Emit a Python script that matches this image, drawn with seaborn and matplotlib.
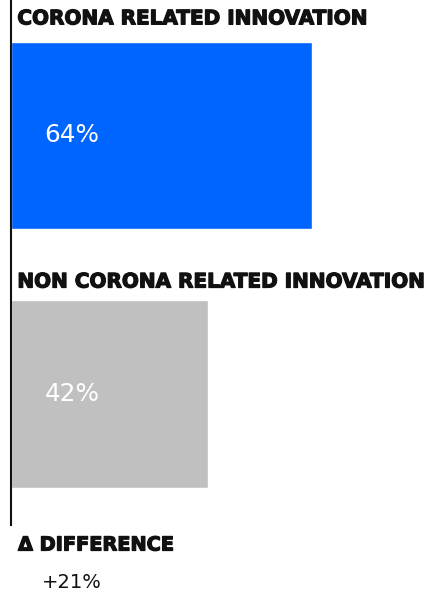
import matplotlib
matplotlib.use("Agg")
import matplotlib.pyplot as plt
import matplotlib.patheffects as pe
import seaborn as sns
import pandas as pd

categories = ["CORONA RELATED INNOVATION", "NON CORONA RELATED INNOVATION"]
values = [64, 42]
value_labels = ["64%", "42%"]
colors = ["#0064FF", "#C0C0C0"]
diff_title = "Δ DIFFERENCE"
diff_value = "+21%"

sns.set_style("white")
plt.rcParams['font.family'] = ['DejaVu Sans']

df = pd.DataFrame({"cat": categories, "val": values})

fig = plt.figure(figsize=(4.26, 5.95), dpi=100)
ax = fig.add_axes([11/426, 70/595, 1 - 11/426, 525/595])
sns.barplot(data=df, y="cat", x="val", hue="cat", palette=colors, orient="h",
            width=0.725, ax=ax, legend=False, saturation=1)
ax.set_xlim(0, 88.3)
ax.set_ylim(1.507, -0.524)
for s in ["top", "right", "bottom"]:
    ax.spines[s].set_visible(False)
ax.spines["left"].set_linewidth(1.5)
ax.spines["left"].set_color("#111111")
ax.set_xticks([]); ax.set_yticks([])
ax.set_xlabel(""); ax.set_ylabel("")

heavy = [pe.withStroke(linewidth=0.9, foreground="#111111")]
title_offsets = [0.451, 0.433]
for i, (c, v, lab) in enumerate(zip(categories, values, value_labels)):
    ax.text(1.35, i - title_offsets[i], c, ha="left", va="center",
            fontsize=14.4, fontweight="bold", color="#111111", path_effects=heavy)
    ax.text(7.1, i, lab, ha="left", va="center", fontsize=17.8, color="white")

fig.text(18/426, 1 - 545/595, diff_title, ha="left", va="center",
         fontsize=13.9, fontweight="bold", color="#111111", path_effects=heavy)
fig.text(42/426, 1 - 582/595, diff_value, ha="left", va="center",
         fontsize=14, color="#111111")

fig.savefig("out.png", dpi=100)
